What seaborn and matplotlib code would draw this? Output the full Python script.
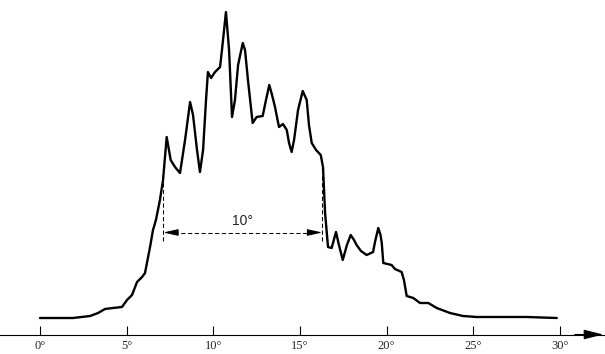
import numpy as np
import pandas as pd
import matplotlib
matplotlib.use("Agg")
import matplotlib.pyplot as plt
import seaborn as sns

# ---- data (angle in degrees, relative intensity) ----
angle = [0.00, 1.90, 2.89, 3.35, 3.75, 4.21, 4.73, 5.02, 5.31, 5.60, 5.89, 6.06,
         6.35, 6.52, 6.69, 6.92, 7.10, 7.31, 7.54, 7.79, 8.08, 8.37, 8.66, 8.83,
         9.06, 9.23, 9.41, 9.58, 9.69, 9.87, 10.10, 10.39, 10.50, 10.73, 10.91,
         11.08, 11.25, 11.43, 11.70, 11.83, 12.00, 12.27, 12.50, 12.85, 13.04,
         13.23, 13.39, 13.56, 13.79, 14.02, 14.24, 14.37, 14.52, 14.66, 14.89,
         15.16, 15.39, 15.52, 15.68, 15.93, 16.20, 16.33, 16.45, 16.62, 16.83,
         17.08, 17.25, 17.47, 17.71, 17.93, 18.12, 18.27, 18.52, 18.85, 19.22,
         19.33, 19.52, 19.65, 19.72, 19.81, 20.29, 20.48, 20.87, 21.00, 21.16,
         21.54, 21.93, 22.41, 22.89, 23.66, 24.41, 25.20, 28.08, 29.82]
intensity = [0, 0, 2, 5, 9, 10, 11, 18, 23, 36, 41, 45,
             71, 88, 98, 118, 138, 181, 158, 151, 145, 178, 216, 203,
             168, 146, 168, 218, 246, 240, 246, 251, 268, 306, 268,
             201, 218, 253, 275, 268, 238, 195, 201, 202, 218,
             233, 223, 211, 191, 194, 188, 175, 166, 178, 208,
             227, 218, 193, 175, 168, 163, 151, 105, 71, 70,
             86, 73, 58, 73, 83, 78, 73, 67, 63, 66,
             76, 90, 83, 75, 55, 53, 49, 46, 38, 22,
             20, 15, 15, 10, 5, 2, 1, 1, 0]

tick_values = [0, 5, 10, 15, 20, 25, 30]
tick_labels = ["0°", "5°", "10°", "15°", "20°", "25°", "30°"]

width_left = 7.11
width_right = 16.29
width_label = "10°"

df = pd.DataFrame({"angle": angle, "intensity": intensity})

sns.set_style("white")
plt.rcParams["font.family"] = ["Liberation Serif", "DejaVu Sans"]

fig = plt.figure(figsize=(6.05, 3.54), dpi=100)
ax = fig.add_axes([0, 0, 1, 1])

sns.lineplot(data=df, x="angle", y="intensity", ax=ax, color="black",
             linewidth=1.7, estimator=None)

ax.set_xlim(-40 / 17.33, 565 / 17.33)
ax.set_ylim(-36, 318)
ax.set_xlabel("")
ax.set_ylabel("")

# axis line
for s in ["left", "right", "top"]:
    ax.spines[s].set_visible(False)
ax.spines["bottom"].set_position(("data", -16.5))
ax.spines["bottom"].set_linewidth(0.8)
ax.spines["bottom"].set_color("black")
ax.set_yticks([])
ax.set_xticks(tick_values)
ax.set_xticklabels(tick_labels, fontsize=9, family=["Liberation Serif", "DejaVu Sans"])
ax.tick_params(axis="x", direction="in", length=6.5, width=0.8, color="black",
               pad=4.0, bottom=True)

# arrow head at the right end of the axis
ax.annotate("", xy=(0.997, -16.5), xytext=(0.95, -16.5),
            xycoords=ax.get_yaxis_transform(), textcoords=ax.get_yaxis_transform(),
            arrowprops=dict(arrowstyle="-|>,head_length=0.8,head_width=0.2",
                            mutation_scale=15, color="black", lw=0.8,
                            shrinkA=0, shrinkB=0))

# width annotation
y_arrow = 85.5
ax.plot([width_left, width_left], [77, 138], color="black", lw=0.75, dashes=(4, 2.5))
ax.plot([width_right, width_right], [77, 146], color="black", lw=0.75, dashes=(4, 2.5))
ax.plot([width_left + 0.6, width_right - 0.6], [y_arrow, y_arrow], color="black",
        lw=0.75, dashes=(4, 2.5))
for tip, tail in [(width_left, width_left + 0.7), (width_right, width_right - 0.7)]:
    ax.annotate("", xy=(tip, y_arrow), xytext=(tail, y_arrow),
                arrowprops=dict(arrowstyle="-|>,head_length=0.9,head_width=0.2",
                                mutation_scale=10, color="black", lw=0.75,
                                shrinkA=0, shrinkB=0))
ax.text(11.71, 97, width_label, ha="center", va="center",
        fontsize=10, family=["Liberation Sans", "DejaVu Sans"])

fig.savefig("out.png", dpi=100)
